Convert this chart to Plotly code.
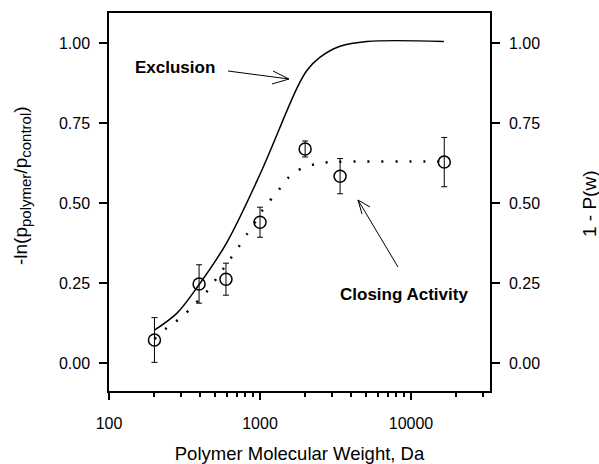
import plotly.graph_objects as go

# Measured closing activity (mean +/- error)
mw_points = [200, 395, 595, 1000, 1990, 3390, 16600]
closing_mean = [0.072, 0.247, 0.262, 0.440, 0.669, 0.584, 0.628]
closing_err = [0.070, 0.060, 0.050, 0.047, 0.025, 0.055, 0.077]

# Fitted closing-activity curve (dotted)
fit_mw = [200, 245, 304, 370, 453, 525, 615, 716, 820, 940, 1080, 1280, 1530, 1900,
          2340, 2950, 5000, 10000, 16600]
fit_closing = [0.075, 0.112, 0.144, 0.184, 0.228, 0.270, 0.316, 0.360, 0.403, 0.444,
               0.490, 0.530, 0.578, 0.609, 0.622, 0.628, 0.630, 0.630, 0.630]

# Exclusion curve 1 - P(w) (solid, right axis)
excl_mw = [200, 282, 388, 600, 1000, 1760, 2050, 2500, 3390, 5100, 16500]
excl_val = [0.103, 0.156, 0.240, 0.375, 0.590, 0.860, 0.915,
            0.956, 0.990, 1.005, 1.005]

x_ticks = [100, 1000, 10000]
x_ticklabels = ["100", "1000", "10000"]
x_minor = [200, 300, 400, 500, 600, 700, 800, 900,
           2000, 3000, 4000, 5000, 6000, 7000, 8000, 9000, 20000, 30000]
y_ticks = [0.0, 0.25, 0.5, 0.75, 1.0]

FONT = "Arial, Liberation Sans, sans-serif"
W, H = 599, 464
L, R, T, B = 109, 109, 13, 73
PW, PH = W - L - R, H - T - B


def px(x, y):
    """Pixel position -> paper coordinates."""
    return (x - L) / PW, (H - B - y) / PH


def arrow_path(tail, tip, arms):
    pts = [px(*tail), px(*tip)] + [px(*a) for a in arms]
    (tx, ty), (hx, hy) = pts[0], pts[1]
    d = f"M {tx},{ty} L {hx},{hy}"
    for ax_, ay_ in pts[2:]:
        d += f" M {ax_},{ay_} L {hx},{hy}"
    return d


fig = go.Figure()

fig.add_trace(go.Scatter(
    x=excl_mw, y=excl_val, mode="lines", yaxis="y2",
    line=dict(color="black", width=1.5, shape="spline", smoothing=1.0),
    hoverinfo="skip",
))

fig.add_trace(go.Scatter(
    x=fit_mw, y=fit_closing, mode="lines",
    line=dict(color="black", width=2.5, dash="2px,12px", shape="spline", smoothing=0.8),
    hoverinfo="skip",
))

fig.add_trace(go.Scatter(
    x=mw_points, y=closing_mean, mode="markers",
    marker=dict(symbol="circle-open", size=12, color="black", line=dict(width=1.5)),
    error_y=dict(type="data", array=closing_err, visible=True,
                 color="black", thickness=1, width=3),
))

axis_common = dict(
    showgrid=False, zeroline=False, showline=True, linecolor="black", linewidth=1.5,
    ticks="outside", tickcolor="black", tickwidth=1.5, automargin=False,
    tickfont=dict(family=FONT, size=16, color="black"),
)

fig.update_layout(
    width=W, height=H,
    margin=dict(l=L, r=R, t=T, b=B, pad=0),
    paper_bgcolor="white", plot_bgcolor="white",
    showlegend=False,
    xaxis=dict(
        type="log", range=[2, 4.523], tickvals=x_ticks, ticktext=x_ticklabels,
        ticklen=7, mirror=True, ticklabelstandoff=10,
        minor=dict(tickvals=x_minor, ticks="outside", ticklen=4,
                   tickcolor="black", tickwidth=1.5),
        title=dict(text="Polymer Molecular Weight, Da",
                   font=dict(family=FONT, size=18.5, color="black"), standoff=16),
        **axis_common,
    ),
    yaxis=dict(
        range=[-0.0875, 1.094], tickvals=y_ticks, tickformat=".2f", ticklen=8,
        ticklabelstandoff=6, **axis_common,
    ),
    yaxis2=dict(
        range=[-0.0875, 1.094], tickvals=y_ticks, tickformat=".2f", ticklen=8,
        overlaying="y", side="right", ticklabelstandoff=6, **axis_common,
    ),
)

# Axis titles for the two y axes
lx, ly = px(22, 186)
rx, ry = px(589, 204)
fig.add_annotation(
    xref="paper", yref="paper", x=lx, y=ly, textangle=-90, showarrow=False,
    xanchor="center", yanchor="middle",
    text="-ln(p<sub><span style='font-size:15px'>polymer</span></sub>/p"
         "<sub><span style='font-size:15px'>control</span></sub>)",
    font=dict(family=FONT, size=19, color="black"),
)
fig.add_annotation(
    xref="paper", yref="paper", x=rx, y=ry, textangle=-90, showarrow=False,
    xanchor="center", yanchor="middle", text="1 - P(w)",
    font=dict(family=FONT, size=19, color="black"),
)

# Curve labels
ex, ey = px(133, 67)
fig.add_annotation(
    xref="paper", yref="paper", x=ex, y=ey, xanchor="left", yanchor="middle",
    showarrow=False, text="<b>Exclusion</b>",
    font=dict(family=FONT, size=17, color="black"),
)
cx, cy = px(338, 294)
fig.add_annotation(
    xref="paper", yref="paper", x=cx, y=cy, xanchor="left", yanchor="middle",
    showarrow=False, text="<b>Closing Activity</b>",
    font=dict(family=FONT, size=17, color="black"),
)

# Open-headed pointer arrows
fig.add_shape(type="path", xref="paper", yref="paper",
              path=arrow_path((228, 71), (289, 79), [(273, 71), (272, 84)]),
              line=dict(color="black", width=1))
fig.add_shape(type="path", xref="paper", yref="paper",
              path=arrow_path((398, 267), (358, 200), [(362, 214), (370, 207)]),
              line=dict(color="black", width=1))

fig.write_html("out.html")
